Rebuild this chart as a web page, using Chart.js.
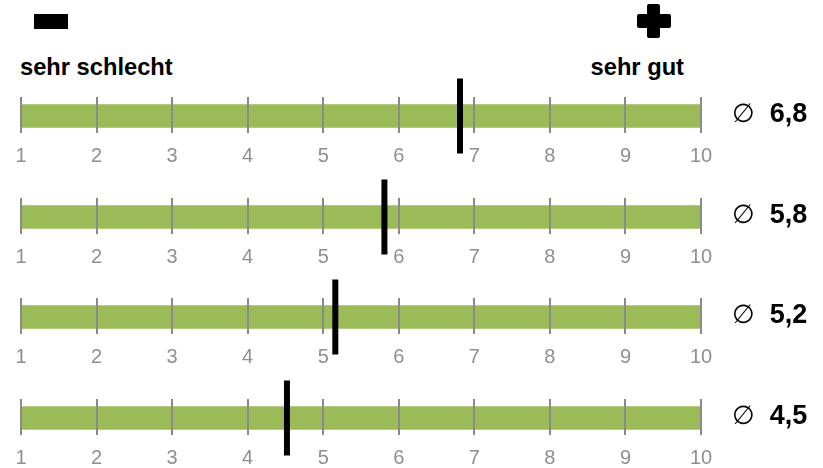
<!DOCTYPE html>
<html><head><meta charset="utf-8">
<script src="https://cdn.jsdelivr.net/npm/chart.js@4/dist/chart.umd.min.js"></script>
<style>
html,body{margin:0;padding:0;}
body{width:823px;height:468px;overflow:hidden;background:#fff;position:relative;font-family:"Liberation Sans",Arial,sans-serif;}
.row{position:absolute;left:0;width:823px;height:101px;}
.row canvas{display:block;}
#minus{position:absolute;left:34px;top:14px;width:34px;height:15px;background:#000;}
.pl{position:absolute;background:#000;border-radius:2px;}
#plusV{left:647px;top:4px;width:13px;height:34px;}
#plusH{left:637px;top:14px;width:34px;height:14px;}
.hdr{position:absolute;top:55px;font-weight:bold;font-size:23.7px;line-height:24px;color:#000;white-space:nowrap;}
#lo{left:20px;}
#hi{right:139px;}
.avg{position:absolute;left:732px;font-size:27px;line-height:27px;color:#000;white-space:nowrap;}
.avg .sym{font-family:"DejaVu Sans",sans-serif;font-weight:normal;font-size:26px;}
.avg .num{font-weight:bold;margin-left:15px;}
</style></head><body>
<div id="minus"></div>
<div class="pl" id="plusV"></div><div class="pl" id="plusH"></div>
<div class="hdr" id="lo">sehr schlecht</div>
<div class="hdr" id="hi">sehr gut</div>
<div id="rows"></div>
<script>
const rowKeys = ['r1', 'r2', 'r3', 'r4'];
const averages = [6.81, 5.81, 5.16, 4.52];
const scaleTicks = [1, 2, 3, 4, 5, 6, 7, 8, 9, 10];
const scaleMin = 1;
const scaleMax = 10;

Chart.defaults.font.family = '"Liberation Sans", Arial, sans-serif';

const ROW_TOP = 75, ROW_STEP = 100.7;
const container = document.getElementById('rows');

rowKeys.forEach((key, i) => {
  const top = Math.round(ROW_TOP + i * ROW_STEP);
  const div = document.createElement('div');
  div.className = 'row';
  div.style.top = top + 'px';
  const cv = document.createElement('canvas');
  cv.width = 823; cv.height = 101;
  div.appendChild(cv);
  container.appendChild(div);

  const avg = averages[i];
  new Chart(cv, {
    type: 'bar',
    data: {
      datasets: [
        {
          type: 'line',
          data: [{ x: avg, y: 0 }],
          showLine: false,
          pointStyle: 'line',
          pointRotation: 90,
          pointRadius: 37.5,
          pointHoverRadius: 37.5,
          pointBorderWidth: 6,
          pointHoverBorderWidth: 6,
          pointBorderColor: '#000',
          borderColor: '#000',
          clip: false,
          order: 0
        },
        {
          data: [{ x: [scaleMin, scaleMax], y: 0 }],
          backgroundColor: '#9BBB59',
          borderWidth: 0,
          barThickness: 23,
          grouped: false,
          order: 1
        }
      ]
    },
    options: {
      indexAxis: 'y',
      animation: false,
      responsive: false,
      events: [],
      layout: { autoPadding: false, padding: { left: 21, right: 122, top: 22, bottom: 7 } },
      plugins: { legend: { display: false }, tooltip: { enabled: false } },
      scales: {
        x: {
          type: 'linear',
          min: scaleMin,
          max: scaleMax,
          afterBuildTicks: s => { s.ticks = scaleTicks.map(v => ({ value: v })); },
          grid: { color: '#8a8a8a', lineWidth: 2, drawTicks: false, z: 1 },
          border: { display: false },
          ticks: { color: '#8f8f8f', font: { size: 20 }, padding: 11, autoSkip: false, maxRotation: 0 }
        },
        y: { type: 'linear', min: -0.8, max: 1, display: false }
      }
    }
  });

  const t = document.createElement('div');
  t.className = 'avg';
  t.style.top = (top + 25) + 'px';
  t.innerHTML = '<span class="sym">\u2205</span><span class="num">' + avg.toFixed(1).replace('.', ',') + '</span>';
  document.body.appendChild(t);
});
</script>
</body></html>
